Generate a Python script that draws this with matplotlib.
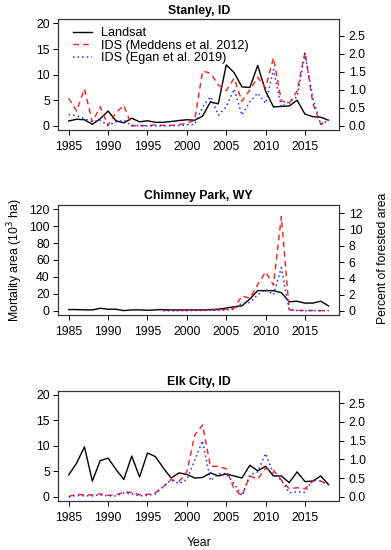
import matplotlib

matplotlib.use("Agg")
import matplotlib.pyplot as plt

plt.rcParams["font.family"] = ["Liberation Sans", "DejaVu Sans"]

years = list(range(1985, 2019))
years_ids_cp = list(range(1997, 2019))

# Stanley, ID (10^3 ha)
stanley_landsat = [0.95, 1.3, 1.2, 0.3, 1.4, 2.9, 1.0, 0.6, 1.5, 0.8, 1.0, 0.7, 0.7, 0.85, 1.05, 1.2, 1.1,
                   1.9, 4.7, 4.3, 11.9, 10.4, 7.6, 7.5, 11.8, 6.8, 3.7, 3.8, 3.9, 5.0, 2.3, 1.8, 1.7, 1.1]
stanley_meddens = [5.4, 2.9, 7.2, 0.8, 3.7, 0.1, 2.6, 4.0, 0.0, 0.1, 0.0, 0.25, 0.1, 0.1, 0.25, 0.5, 1.1,
                   10.7, 10.3, 8.0, 6.9, 9.3, 4.8, 7.0, 9.5, 7.4, 13.3, 4.9, 4.4, 6.8, 14.4, 4.4, 0.3, 1.2]
stanley_egan = [2.2, 2.0, 1.4, 0.8, 1.1, 0.1, 0.8, 1.1, 0.1, 0.0, 0.0, 0.0, 0.0, 0.05, 0.05, 0.2, 0.3,
                3.7, 5.7, 2.1, 3.7, 7.2, 2.1, 4.7, 6.4, 4.4, 11.0, 3.7, 4.7, 5.7, 14.1, 5.4, 0.25, 1.1]

# Chimney Park, WY
chimney_landsat = [1.6, 1.6, 1.2, 1.2, 3.1, 2.0, 2.0, 0.4, 1.2, 1.2, 0.8, 1.2, 1.6, 1.2, 1.2, 1.2, 1.2,
                   1.2, 1.6, 2.0, 3.3, 5.0, 6.0, 14.0, 24.0, 23.8, 23.8, 21.5, 10.8, 11.4, 9.2, 9.2, 11.4, 5.9]
chimney_meddens = [0.6, 0.5, 0.5, 0.6, 0.8, 1.0, 1.0, 1.2, 2.0, 3.0, 17.6, 15.0, 31.0, 46.0, 30.6, 111.0,
                   1.2, 0.6, 0.5, 0.5, 0.4, 0.4]
chimney_egan = [0.3, 0.2, 0.3, 0.4, 0.5, 0.6, 0.7, 0.8, 1.2, 2.0, 9.0, 10.0, 19.0, 25.6, 19.0, 51.0,
                1.2, 0.4, 0.3, 0.3, 0.3, 0.3]

# Elk City, ID
elk_landsat = [4.3, 6.6, 9.8, 3.1, 7.1, 7.6, 5.4, 3.4, 8.0, 3.9, 8.6, 7.9, 5.7, 3.7, 4.7, 4.4, 3.7,
               3.8, 4.7, 4.1, 4.5, 4.1, 3.7, 6.2, 5.1, 6.0, 4.1, 4.1, 2.8, 4.9, 3.0, 3.1, 4.1, 2.4]
elk_meddens = [0.1, 0.5, 0.4, 0.4, 0.6, 0.3, 0.4, 0.9, 0.9, 0.4, 0.5, 0.8, 2.0, 3.4, 3.0, 4.9, 12.1,
               14.1, 6.0, 6.0, 5.5, 1.6, 0.2, 4.1, 3.5, 5.6, 5.2, 3.3, 1.6, 1.8, 1.6, 3.1, 3.1, 2.4]
elk_egan = [0.0, 0.3, 0.2, 0.2, 0.4, 0.2, 0.2, 0.8, 0.6, 0.2, 0.3, 0.6, 2.0, 3.3, 2.6, 3.4, 7.2,
            11.0, 3.2, 4.5, 4.6, 2.6, 0.2, 4.3, 4.9, 8.5, 4.5, 3.3, 0.8, 1.0, 0.9, 3.4, 3.1, 2.4]

titles = ["Stanley, ID", "Chimney Park, WY", "Elk City, ID"]
left_ticks = [[0, 5, 10, 15, 20], [0, 20, 40, 60, 80, 100, 120], [0, 5, 10, 15, 20]]
right_ticks = [[0.0, 0.5, 1.0, 1.5, 2.0, 2.5], [0, 2, 4, 6, 8, 10, 12], [0.0, 0.5, 1.0, 1.5, 2.0, 2.5]]
right_fmt = ["{:.1f}", "{:d}", "{:.1f}"]
area_per_pct = [7.05, 9.6, 7.35]  # 10^3 ha per 1 % of forested area
x_ticks = [1985, 1990, 1995, 2000, 2005, 2010, 2015]

W, H = 391, 550
boxes = [(58.3, 19.3, 339, 130), (58.3, 205, 339, 315), (58.3, 390.7, 339, 501)]

series = [
    (years, stanley_landsat, years, stanley_meddens, years, stanley_egan),
    (years, chimney_landsat, years_ids_cp, chimney_meddens, years_ids_cp, chimney_egan),
    (years, elk_landsat, years, elk_meddens, years, elk_egan),
]

fig = plt.figure(figsize=(W / 100, H / 100), dpi=100)
FS = 8.8
axes = []
for i, (l, t, r, b) in enumerate(boxes):
    ax = fig.add_axes([l / W, 1 - b / H, (r - l) / W, (b - t) / H])
    axes.append(ax)
    xl, yl, xm, ym, xe, ye = series[i]
    ax.plot(xl, yl, color="black", lw=1.0, label="Landsat")
    ax.plot(xm, ym, color="#ff1a1a", lw=1.0, ls=(0, (4, 3)), label="IDS (Meddens et al. 2012)")
    ax.plot(xe, ye, color="#2a2aff", lw=1.1, ls=(0, (1, 2)), label="IDS (Egan et al. 2019)")

    top = left_ticks[i][-1]
    ylim = (-0.04 * top, top * 1.04)
    ax.set_ylim(ylim)
    ax.set_xlim(1985 - 0.04 * 33, 2018 + 0.04 * 33)
    ax.set_yticks(left_ticks[i])
    ax.set_xticks(x_ticks)
    ax.tick_params(labelsize=FS, length=3.6, width=0.7, pad=2.5, direction="out")
    ax.tick_params(axis="x", pad=4.5)
    for s in ax.spines.values():
        s.set_linewidth(0.8)
        s.set_color("#333333")
    ax.set_title(titles[i], fontsize=FS, fontweight="bold", pad=4)

    ax2 = ax.twinx()
    ax2.set_ylim(ylim[0] / area_per_pct[i], ylim[1] / area_per_pct[i])
    ax2.set_yticks(right_ticks[i])
    ax2.set_yticklabels([right_fmt[i].format(v) for v in right_ticks[i]])
    ax2.tick_params(labelsize=FS, length=3.6, width=0.7, pad=3.5, direction="out")
    for s in ax2.spines.values():
        s.set_linewidth(0.8)
        s.set_color("#333333")

axes[0].legend(loc="upper left", frameon=False, fontsize=FS + 0.3, handlelength=1.5,
               handletextpad=0.7, labelspacing=0.05, borderaxespad=0.0,
               bbox_to_anchor=(0.035, 0.975))
axes[1].set_ylabel("Mortality area (10$^3$ ha)", fontsize=FS, labelpad=3)
fig.text(383 / W, 1 - 258 / H, "Percent of forested area", rotation=90, fontsize=FS,
         ha="center", va="center")
axes[2].set_xlabel("Year", fontsize=FS, labelpad=9)

fig.savefig("out.png", dpi=100)
